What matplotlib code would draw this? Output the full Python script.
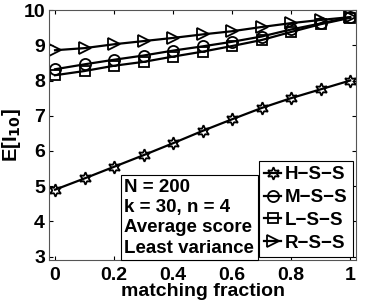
import matplotlib.pyplot as plt

plt.rcParams['font.family'] = ['Liberation Sans', 'DejaVu Sans']
plt.rcParams['font.weight'] = 'bold'

frac = [0, 0.1, 0.2, 0.3, 0.4, 0.5, 0.6, 0.7, 0.8, 0.9, 1.0]
hss = [4.9, 5.22, 5.55, 5.88, 6.22, 6.57, 6.9, 7.22, 7.5, 7.75, 8.0]
mss = [8.32, 8.46, 8.59, 8.71, 8.85, 8.97, 9.1, 9.25, 9.45, 9.62, 9.8]
lss = [8.15, 8.27, 8.42, 8.53, 8.68, 8.82, 8.98, 9.15, 9.38, 9.6, 9.78]
rss = [8.86, 8.92, 9.03, 9.12, 9.21, 9.31, 9.4, 9.52, 9.63, 9.72, 9.8]
names = ['H\u2212S\u2212S', 'M\u2212S\u2212S', 'L\u2212S\u2212S', 'R\u2212S\u2212S']

fig = plt.figure(figsize=(3.78, 3.06), dpi=100)
ax = fig.add_axes([0.13, 0.15, 0.812, 0.817])

marks = [(6, 1, 0), 'o', 's', '>']
sizes = [9, 8, 6.5, 9]
for ys, m, s, lab in zip([hss, mss, lss, rss], marks, sizes, names):
    ax.plot(frac, ys, color='k', lw=1.6, marker=m, ms=s, mfc='none',
            mec='k', mew=1.3, label=lab)

ax.set_xlim(-0.02, 1.02)
ax.set_ylim(2.9, 10)
ax.set_xticks([0, 0.2, 0.4, 0.6, 0.8, 1])
ax.set_xticklabels(['0', '0.2', '0.4', '0.6', '0.8', '1'])
ax.set_yticks(range(3, 11))
ax.tick_params(labelsize=14, direction='in', length=3, top=True, right=True, pad=3)
ax.tick_params(axis='x', pad=5)
for sp in ax.spines.values():
    sp.set_color('#555555')
    sp.set_linewidth(0.8)

ax.set_xlabel('matching fraction', fontsize=14, fontweight='bold', labelpad=-1)
ax.set_ylabel('E[I$_{\\mathbf{10}}$]', fontsize=14.5, fontweight='bold', labelpad=0)

leg = ax.legend(loc='lower right', fontsize=13.5, handlelength=0.9, handletextpad=0.2,
                borderpad=0.3, labelspacing=0.3, fancybox=False, framealpha=1,
                edgecolor='k', borderaxespad=0.15)
leg.get_frame().set_linewidth(0.8)

ax.text(0.245, 0.014, 'N = 200\nk = 30, n = 4\nAverage score\nLeast variance',
        transform=ax.transAxes, fontsize=13.5, fontweight='bold', va='bottom', ha='left',
        linespacing=1.25,
        bbox=dict(boxstyle='square,pad=0.2', fc='white', ec='k', lw=0.8))

fig.savefig('out.png', dpi=100)
